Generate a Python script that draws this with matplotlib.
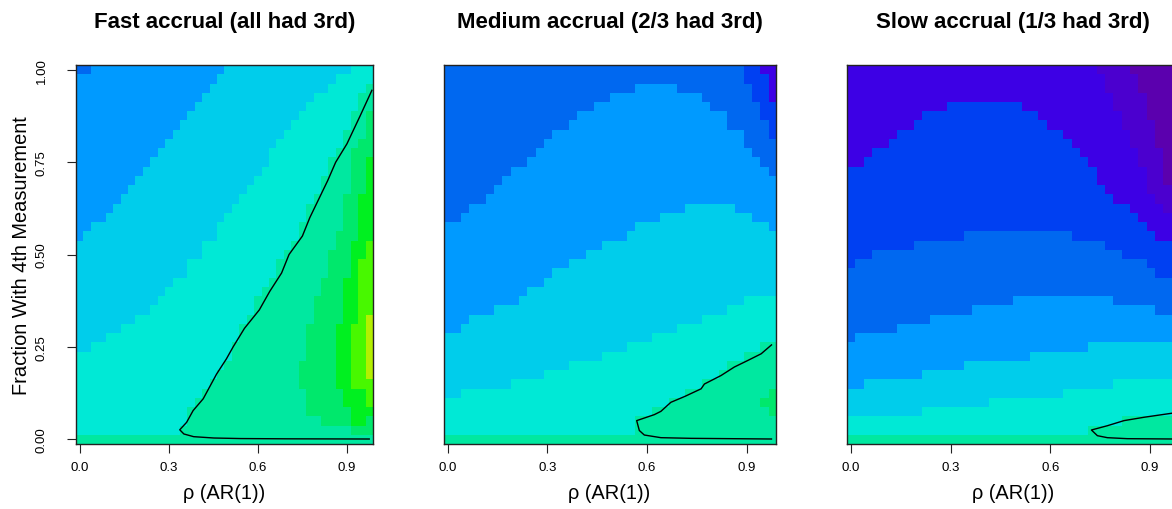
import numpy as np
import matplotlib
matplotlib.use("Agg")
import matplotlib.pyplot as plt
from matplotlib.colors import ListedColormap

plt.rcParams['font.family'] = ['Liberation Sans', 'DejaVu Sans']

# colour levels, lowest value first (purple ... lime)
LEVEL_CODES = "abcdefghijklm"
LEVEL_COLORS = ['#5B00AE', '#4B00CF', '#3D00E5', '#0040F2', '#0068F0',
                '#009AFF', '#00CDEB', '#00E9D6', '#00E8A0', '#00E86C',
                '#00F020', '#48F800', '#B4F000']

# rho grid (columns) and fraction grid (rows)
rho_first, rho_last, n_rho = 0.0, 0.975, 40
frac_first, frac_last, n_frac = 0.0, 1.0, 41

# each row: run-length coded levels, from fraction 1.000 (top) down to 0.000
fast_rows = [
    "e2 f18 g17 h3", "f19 g16 h5", "f18 g16 h5 i1", "f17 g15 h6 i2",
    "f16 g15 h7 i2", "f15 g15 h7 i2 j1", "f14 g15 h8 i2 j1", "f13 g15 h8 i3 j1",
    "f12 g15 h9 i2 j2", "f11 g15 h9 i2 j3", "f10 g16 h8 i3 j2 k1",
    "f9 g16 h9 i3 j2 k1", "f8 g16 h9 i4 j2 k1", "f7 g16 h10 i4 j2 k1",
    "f6 g16 h10 i4 j2 k2", "f5 g16 h10 i5 j2 k2", "f4 g16 h11 i5 j2 k2",
    "f2 g17 h11 i6 j2 k2", "f1 g18 h11 i5 j3 k2", "g17 h12 i6 j2 k2 l1",
    "g17 h11 i6 j3 k2 l1", "g15 h12 i7 j3 k1 l2", "g15 h12 i7 j3 k1 l2",
    "g13 h13 i7 j3 k2 l2", "g12 h13 i8 j3 k2 l2", "g11 h13 i8 j4 k2 l2",
    "g10 h14 i8 j4 k2 l2", "g8 h15 i9 j4 k2 l1 m1", "g6 h16 i9 j4 k2 l2 m1",
    "g4 h18 i9 j4 k2 l2 m1", "g2 h19 i10 j4 k2 l2 m1", "h21 i10 j4 k2 l2 m1",
    "h20 i10 j5 k2 l2 m1", "h19 i11 j5 k2 l2 m1", "h18 i12 j5 k2 l3",
    "h17 i14 j5 k3 l1", "h16 i15 j5 k3 l1", "h15 i16 j6 k3",
    "h15 i18 j4 k2 j1", "h14 i23 j3", "i40",
]

medium_rows = [
    "e36 d2 c2", "e36 d3 c1", "e23 f5 e9 d2 c1", "e20 f11 e6 d2 c1",
    "e18 f14 e6 d2", "e16 f18 e4 d2", "e15 f19 e5 d1", "e13 f23 e3 d1",
    "e12 f24 e4", "e11 f26 e3", "e10 f28 e2", "e8 f31 e1", "e7 f33",
    "e6 f34", "e5 f35", "e3 f26 g6 f5", "e2 f24 g11 f3", "f23 g16 f1",
    "f22 g18", "f19 g21", "f17 g23", "f15 g25", "f13 g27", "f12 g28",
    "f10 g30", "f9 g27 h4", "f6 g28 h6", "f3 g28 h9", "f2 g26 h12",
    "g25 h15", "g22 h16 i2", "g19 h17 i4", "g15 h19 i6", "g12 h21 i7",
    "g8 h23 i9", "g2 h27 i10 j1", "h27 i11 j2", "h25 i14 j1", "h23 i17",
    "h23 i17", "i40",
]

slow_rows = [
    "c30 b4 a6", "c31 b4 a5", "c31 b4 a5", "c32 b4 a4",
    "c12 d9 c11 b4 a4", "c9 d14 c10 b3 a4", "c8 d16 c9 b4 a3",
    "c6 d20 c8 b3 a3", "c5 d22 c7 b3 a3", "c3 d25 c7 b3 a2",
    "c2 d27 c6 b3 a2", "d30 c6 b2 a2", "d30 c6 b2 a2", "d31 c5 b3 a1",
    "d32 c5 b2 a1", "d34 c4 b1 a1", "d35 c4 b1", "d36 c4",
    "d14 e13 d10 c3", "d8 e23 d8 c1", "d3 e30 d7", "d1 e35 d4", "e37 d3",
    "e40", "e40", "e20 f12 e8", "e15 f22 e3", "e10 f30", "e6 f34",
    "e1 f39", "f29 g11", "f22 g18", "f14 g26", "f9 g31", "f2 g30 h8",
    "g26 h14", "g17 h23", "g9 h31", "h33 i7", "h29 i11", "i40",
]

# contour line (relative efficiency = 1)
fast_line_rho = [0.984, 0.944, 0.900, 0.862, 0.835, 0.805, 0.775, 0.750, 0.705,
                 0.680, 0.640, 0.605, 0.555, 0.517, 0.494, 0.461, 0.416, 0.382,
                 0.360, 0.337, 0.351, 0.384, 0.452, 0.542, 0.700, 0.975]
fast_line_frac = [0.945, 0.875, 0.800, 0.750, 0.700, 0.650, 0.600, 0.550, 0.500,
                  0.450, 0.400, 0.350, 0.300, 0.250, 0.217, 0.176, 0.109, 0.077,
                  0.045, 0.025, 0.0136, 0.0063, 0.0027, 0.0012, 0.0005, 0.0]

medium_line_rho = [0.975, 0.944, 0.904, 0.863, 0.823, 0.773, 0.763, 0.713, 0.672,
                   0.642, 0.622, 0.569, 0.577, 0.592, 0.642, 0.733, 0.975]
medium_line_frac = [0.255, 0.231, 0.213, 0.195, 0.172, 0.149, 0.136, 0.115, 0.0995,
                    0.075, 0.066, 0.0498, 0.023, 0.0108, 0.0036, 0.0018, 0.0]

slow_line_rho = [0.975, 0.883, 0.822, 0.772, 0.724, 0.742, 0.772, 0.832, 0.975]
slow_line_frac = [0.071, 0.059, 0.0498, 0.036, 0.0244, 0.009, 0.0036, 0.0009, 0.0]

titles = ["Fast accrual (all had 3rd)", "Medium accrual (2/3 had 3rd)",
          "Slow accrual (1/3 had 3rd)"]
x_ticks = [0.0, 0.3, 0.6, 0.9]
x_ticklabels = ["0.0", "0.3", "0.6", "0.9"]
y_ticks = [0.0, 0.25, 0.5, 0.75, 1.0]
y_ticklabels = ["0.00", "0.25", "0.50", "0.75", "1.00"]


def decode(rows):
    grid = []
    for r in rows:
        cells = []
        for tok in r.split():
            cells += [LEVEL_CODES.index(tok[0])] * int(tok[1:])
        assert len(cells) == n_rho, (r, len(cells))
        grid.append(cells)
    assert len(grid) == n_frac
    return np.array(grid[::-1])  # first row = fraction 0


half_dx = (rho_last - rho_first) / (n_rho - 1) / 2
half_dy = (frac_last - frac_first) / (n_frac - 1) / 2
extent = (rho_first - half_dx, rho_last + half_dx,
          frac_first - half_dy, frac_last + half_dy)

cmap = ListedColormap(LEVEL_COLORS)

fig = plt.figure(figsize=(11.72, 5.10), dpi=100)
bottom, height = 0.1282, 0.7416
positions = [[0.0648, bottom, 0.2534, height],
             [0.3785, bottom, 0.2833, height],
             [0.7226, bottom, 0.2833, height]]
panels = [(fast_rows, fast_line_rho, fast_line_frac),
          (medium_rows, medium_line_rho, medium_line_frac),
          (slow_rows, slow_line_rho, slow_line_frac)]

for k, (rows, lx, ly) in enumerate(panels):
    ax = fig.add_axes(positions[k])
    ax.imshow(decode(rows), cmap=cmap, vmin=-0.5, vmax=len(LEVEL_COLORS) - 0.5,
              origin='lower', extent=extent, aspect='auto',
              interpolation='nearest')
    ax.plot(lx, ly, color='black', lw=1.0)
    ax.set_xlim(extent[0], extent[1])
    ax.set_ylim(extent[2], extent[3])
    ax.set_xticks(x_ticks)
    ax.set_xticklabels(x_ticklabels)
    ax.tick_params(axis='x', direction='out', length=6.5, width=0.8,
                   labelsize=9.5, pad=6, color='#222222')
    ax.set_xlabel('ρ (AR(1))', fontsize=14.4, labelpad=7.5)
    ax.set_title(titles[k], fontsize=16, fontweight='bold', pad=27.5)
    for sp in ax.spines.values():
        sp.set_linewidth(1.0)
        sp.set_color('#222222')
    if k == 0:
        ax.set_yticks(y_ticks)
        ax.set_yticklabels(y_ticklabels, rotation=90, va='center')
        ax.tick_params(axis='y', direction='out', length=6.5, width=0.8,
                       labelsize=9.5, pad=14, color='#222222')
        ax.set_ylabel('Fraction With 4th Measurement', fontsize=14.4,
                      labelpad=3)
    else:
        ax.set_yticks([])

fig.savefig('out.png', dpi=100)
